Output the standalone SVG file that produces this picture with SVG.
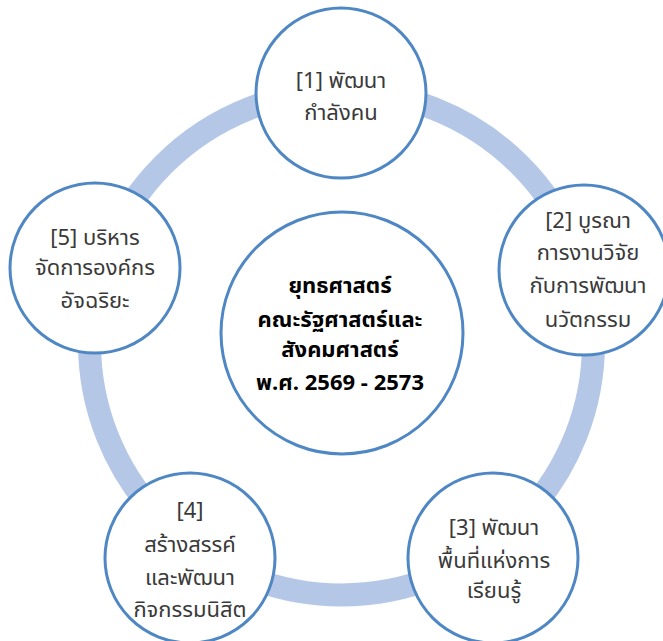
<svg xmlns="http://www.w3.org/2000/svg" width="663" height="641" viewBox="0 0 663 641">
<style>
.node{fill:#fff;stroke:#4F87C4;stroke-width:3}
.ring{fill:none;stroke:#B4C7E7;stroke-width:23}
.t{font-family:"Noto Sans Thai","Noto Sans","DejaVu Sans",sans-serif;font-size:22px;fill:#3a3a3a;text-anchor:middle}
.c{font-family:"Noto Sans Thai","Noto Sans","DejaVu Sans",sans-serif;font-size:22px;font-weight:bold;fill:#000;text-anchor:middle}
</style>
<rect width="663" height="641" fill="#fff"/>
<g id="connectors">
<circle class="ring" cx="341.5" cy="343" r="252"/>
</g>
<g id="center">
<circle class="node" cx="342" cy="333" r="121"/>
<text class="c" x="340" y="293">ยุทธศาสตร์</text>
<text class="c" x="340" y="327">คณะรัฐศาสตร์และ</text>
<text class="c" x="340" y="357">สังคมศาสตร์</text>
<text class="c" x="340" y="390">พ.ศ. 2569 - 2573</text>
</g>
<g id="n1">
<circle class="node" cx="341" cy="93" r="85"/>
<text class="t" x="341" y="88">[1] พัฒนา</text>
<text class="t" x="341" y="120">กำลังคน</text>
</g>
<g id="n2">
<circle class="node" cx="584" cy="270" r="85"/>
<text class="t" x="588" y="228">[2] บูรณา</text>
<text class="t" x="588" y="260">การงานวิจัย</text>
<text class="t" x="588" y="293">กับการพัฒนา</text>
<text class="t" x="588" y="327">นวัตกรรม</text>
</g>
<g id="n3">
<circle class="node" cx="493" cy="558" r="85"/>
<text class="t" x="494" y="535">[3] พัฒนา</text>
<text class="t" x="494" y="568">พื้นที่แห่งการ</text>
<text class="t" x="494" y="598">เรียนรู้</text>
</g>
<g id="n4">
<circle class="node" cx="190" cy="558" r="85"/>
<text class="t" x="190" y="518">[4]</text>
<text class="t" x="190" y="552">สร้างสรรค์</text>
<text class="t" x="190" y="585">และพัฒนา</text>
<text class="t" x="190" y="617">กิจกรรมนิสิต</text>
</g>
<g id="n5">
<circle class="node" cx="95" cy="268" r="85"/>
<text class="t" x="95" y="245">[5] บริหาร</text>
<text class="t" x="95" y="275">จัดการองค์กร</text>
<text class="t" x="95" y="308">อัจฉริยะ</text>
</g>
</svg>
